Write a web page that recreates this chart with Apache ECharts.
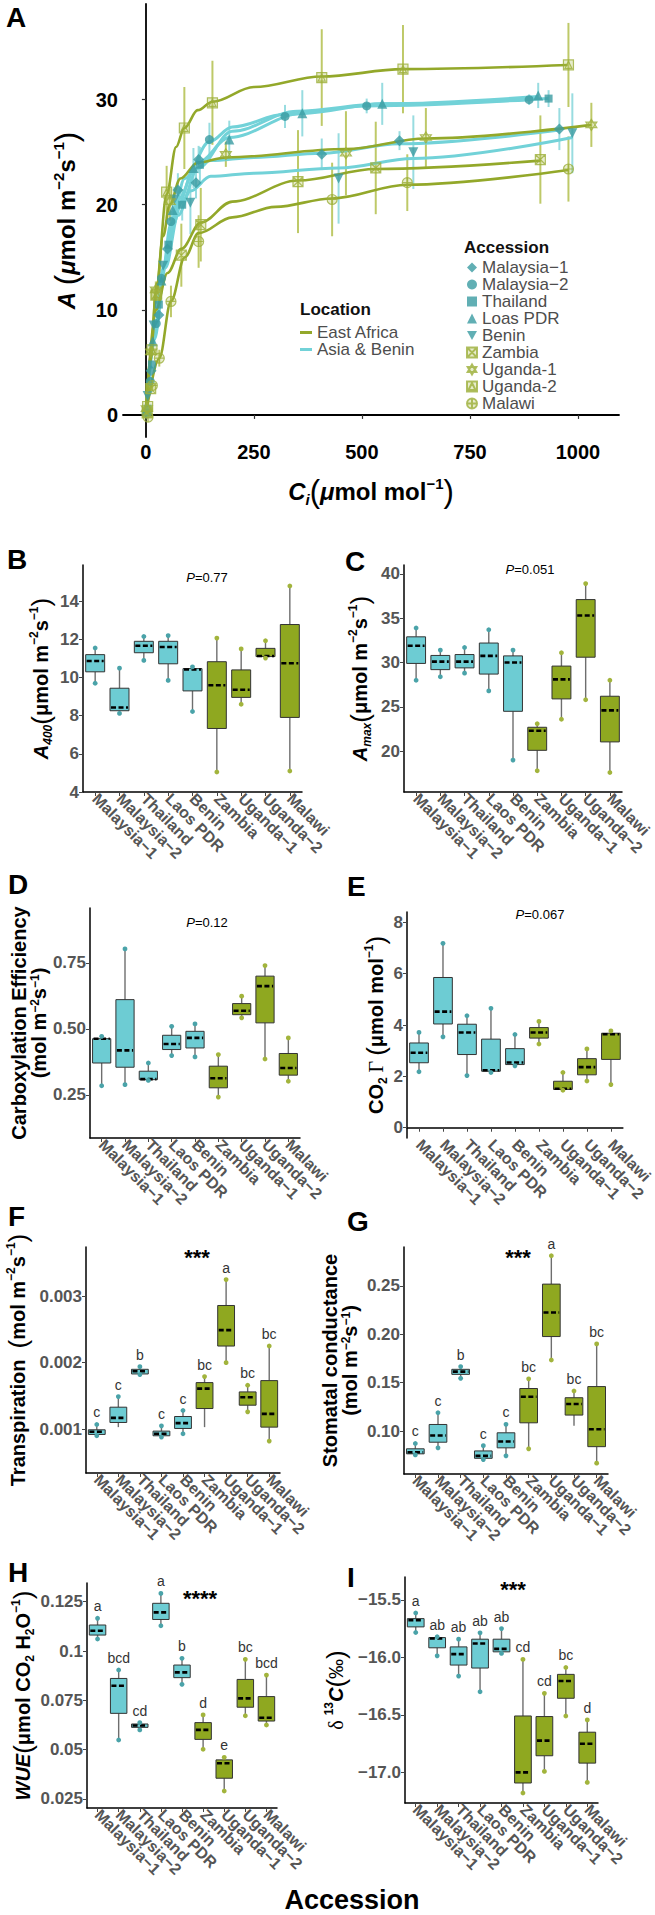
<!DOCTYPE html>
<html><head><meta charset="utf-8">
<script src="https://cdn.jsdelivr.net/npm/echarts@6/dist/echarts.min.js"></script>
<style>html,body{margin:0;padding:0;background:#fff}#c{width:655px;height:1915px}</style>
</head><body><div id="c"></div>
<script>
// ---------------- DATA ----------------
const catLabels = ['Malaysia−1','Malaysia−2','Thailand','Laos PDR','Benin','Zambia','Uganda−1','Uganda−2','Malawi'];
const legendNames = ['Malaysia−1','Malaysia−2','Thailand','Loas PDR','Benin','Zambia','Uganda-1','Uganda-2','Malawi'];
const locationNames = ['Asia & Benin','Asia & Benin','Asia & Benin','Asia & Benin','Asia & Benin','East Africa','East Africa','East Africa','East Africa'];

// Panel A: points [Ci, A, error half-length]
const ptsMalaysia1 = [[2,0.3,0],[12,4.2,0],[30,9.5,0],[50,15.8,0],[74,21.4,1.6],[116,22.1,1.5],[122,24.3,1.3],[407,24.8,1.5],[587,26.1,0.9],[957,27.2,2.0]];
const ptsMalaysia2 = [[3,0.1,0],[10,3.2,0],[24,8.7,0],[36,13.0,0.8],[58,18.4,1.0],[147,26.2,1.6],[322,28.4,1.1],[511,29.4,0.7],[887,30.0,0.5]];
const ptsThailand  = [[4,0.6,0],[14,4.8,0],[30,10.5,0],[52,16.2,0],[84,20.0,1.5],[125,23.8,1.7],[932,30.1,0.8]];
const ptsLaos      = [[1,0.5,0],[16,7.0,0],[36,12.8,0],[62,19.5,1.0],[110,23.5,1.9],[193,26.2,1.8],[362,28.7,2.2],[547,29.6,2.0],[908,30.4,1.2]];
const ptsBenin     = [[4,1.8,0],[18,8.5,0],[40,14.2,0],[66,20.5,1.2],[103,20.2,3.0],[446,22.5,4.3],[619,25.0,3.5],[987,26.8,3.8]];
const ptsZambia    = [[3,0.2,0],[11,2.5,0],[23,11.4,0.8],[82,15.2,3.0],[127,18.1,3.5],[352,22.2,4.9],[532,23.5,4.4],[913,24.3,4.2]];
const ptsUganda1   = [[2,0.6,0],[12,6.0,0],[23,11.9,0.8],[55,20.3,1.8],[185,24.8,1.2],[463,24.9,4.0],[648,26.4,2.8],[1031,27.6,2.1]];
const ptsUganda2   = [[4,0.8,0],[14,6.2,0],[25,11.5,0.9],[48,21.2,2.5],[89,27.3,3.9],[154,29.7,4.0],[407,32.1,4.6],[595,32.9,4.2],[978,33.3,4.0]];
const ptsMalawi    = [[5,-0.2,0],[15,2.8,0],[31,5.4,0.8],[58,10.8,1.5],[122,16.5,2.5],[431,20.5,3.5],[605,22.1,2.7],[978,23.4,3.1]];

// Panel A: fitted curves [Ci, A]
const curveMalaysia1 = [[0,0],[20,7.5],[45,14.5],[75,20],[110,23.3],[150,24.2],[250,24.5],[407,24.9],[587,25.8],[957,27.1]];
const curveMalaysia2 = [[0,0],[20,7.5],[36,12.8],[58,18.2],[90,22.5],[147,26],[200,27.4],[322,28.6],[511,29.4],[887,30.0]];
const curveThailand  = [[0,0],[20,7.8],[40,14],[60,17.8],[84,20.3],[120,23.5],[200,27],[350,28.9],[550,29.6],[932,30.1]];
const curveLaos      = [[0,0],[20,7.2],[45,14.5],[75,20.5],[120,24],[193,26.4],[362,28.7],[547,29.6],[908,30.3]];
const curveBenin     = [[0,0],[20,8],[45,14],[75,19],[103,21.3],[150,22.7],[250,23],[446,23.5],[619,24.4],[987,26.4]];
const curveZambia    = [[0,0],[23,10],[50,13.5],[82,15.8],[127,18.3],[200,20.3],[352,22.3],[532,23.4],[913,24.2]];
const curveUganda1   = [[0,0],[12,6],[23,11.5],[40,17],[55,20],[80,22.5],[120,24],[185,24.5],[463,25.3],[648,26.3],[1031,27.6]];
const curveUganda2   = [[0,0],[10,5],[25,12.5],[48,21],[70,25.5],[89,27.3],[120,29],[154,29.8],[250,31.2],[407,32.2],[595,32.9],[976,33.3]];
const curveMalawi    = [[0,0],[31,5.4],[58,10.8],[90,15],[122,17.3],[200,18.8],[300,19.8],[431,20.6],[605,21.9],[978,23.3]];

const aXTicks = [0,250,500,750,1000];
const aXTickLabels = ['0','250','500','750','1000'];
const aYTicks = [0,10,20,30];
const aYTickLabels = ['0','10','20','30'];

// Box panels: [min, q1, median, q3, max] per accession
const a400 = [[9.7,10.3,10.87,11.2,11.55],[8.12,8.26,8.43,9.44,10.49],[10.9,11.3,11.67,11.9,12.15],[9.85,10.72,11.6,11.9,12.2],[8.22,9.3,10.42,10.47,10.56],[5.05,7.33,9.6,10.83,12.07],[8.6,8.96,9.36,10.4,11.5],[11.02,11.1,11.13,11.53,11.93],[5.1,7.91,10.75,12.78,14.8]];
const amax = [[28.0,29.9,31.9,32.9,33.9],[28.4,29.2,30.1,30.8,31.4],[28.8,29.4,30.1,30.9,31.7],[26.8,28.7,30.75,32.2,33.7],[19.0,24.5,30.0,30.75,31.4],[17.8,20.1,22.3,22.7,23.1],[23.6,25.9,28.1,29.6,31.1],[25.8,30.6,35.3,37.1,38.9],[17.6,21.05,24.6,26.2,28.0]];
const carbEff = [[0.285,0.371,0.463,0.463,0.472],[0.289,0.355,0.419,0.611,0.803],[0.305,0.308,0.31,0.34,0.371],[0.399,0.422,0.443,0.476,0.51],[0.394,0.428,0.466,0.491,0.519],[0.242,0.277,0.313,0.359,0.403],[0.542,0.554,0.569,0.596,0.624],[0.386,0.523,0.662,0.70,0.74],[0.302,0.325,0.352,0.407,0.466]];
const co2Gamma = [[2.18,2.53,2.92,3.3,3.71],[3.54,4.04,4.52,5.85,7.18],[2.03,2.85,3.71,4.03,4.36],[2.15,2.2,2.24,3.45,4.65],[2.41,2.46,2.54,3.08,3.63],[3.26,3.49,3.71,3.9,4.14],[1.46,1.49,1.52,1.81,2.15],[1.82,2.06,2.36,2.69,3.07],[1.68,2.66,3.64,3.68,3.77]];
const transp = [[0.00090,0.00092,0.00096,0.00099,0.00107],[0.00103,0.0011,0.00117,0.00133,0.00149],[0.00182,0.00183,0.00187,0.0019,0.00194],[0.00088,0.0009,0.00093,0.00097,0.00105],[0.00093,0.00101,0.00109,0.00119,0.00128],[0.00103,0.00131,0.00161,0.0017,0.00179],[0.002,0.00225,0.00249,0.00286,0.00325],[0.00126,0.00136,0.00148,0.00156,0.00166],[0.00082,0.00103,0.00123,0.00173,0.00225]];
const stomCond = [[0.0755,0.0766,0.0783,0.0818,0.0873],[0.0828,0.0886,0.0955,0.1069,0.119],[0.1545,0.1586,0.1614,0.1638,0.1666],[0.0707,0.072,0.0745,0.0796,0.085],[0.0745,0.0828,0.0893,0.0983,0.107],[0.0818,0.1086,0.1355,0.144,0.154],[0.1734,0.1976,0.2224,0.2517,0.281],[0.1055,0.1166,0.128,0.1345,0.1414],[0.067,0.084,0.102,0.146,0.19]];
const wue = [[0.1061,0.1081,0.1103,0.1132,0.1166],[0.0549,0.0684,0.0824,0.0861,0.0904],[0.06,0.0613,0.0622,0.063,0.0637],[0.1128,0.116,0.1196,0.1242,0.1292],[0.0831,0.0865,0.0892,0.0929,0.0963],[0.0502,0.0552,0.06,0.0637,0.0676],[0.029,0.0355,0.0431,0.0448,0.0461],[0.0672,0.0715,0.076,0.0856,0.0958],[0.0625,0.0645,0.0662,0.0769,0.0878]];
const d13c = [[-15.783,-15.734,-15.676,-15.662,-15.613],[-15.986,-15.916,-15.835,-15.827,-15.82],[-16.162,-16.066,-15.971,-15.908,-15.841],[-16.298,-16.092,-15.879,-15.841,-15.786],[-15.965,-15.951,-15.925,-15.841,-15.749],[-17.179,-17.092,-17.0,-16.509,-16.017],[-16.991,-16.855,-16.723,-16.514,-16.312],[-16.509,-16.355,-16.205,-16.147,-16.087],[-17.087,-16.919,-16.751,-16.65,-16.543]];

const lettersF = ['c','c','b','c','c','bc','a','bc','bc'];
const lettersG = ['c','c','b','c','c','bc','a','bc','bc'];
const lettersH = ['a','bcd','cd','a','b','d','e','bc','bcd'];
const lettersI = ['a','ab','ab','ab','ab','cd','cd','bc','d'];

const ticksB = [4,6,8,10,12,14];            const tickLabelsB = ['4','6','8','10','12','14'];
const ticksC = [20,25,30,35,40];            const tickLabelsC = ['20','25','30','35','40'];
const ticksD = [0.25,0.5,0.75];             const tickLabelsD = ['0.25','0.50','0.75'];
const ticksE = [0,2,4,6,8];                 const tickLabelsE = ['0','2','4','6','8'];
const ticksF = [0.001,0.002,0.003];         const tickLabelsF = ['0.001','0.002','0.003'];
const ticksG = [0.10,0.15,0.20,0.25];       const tickLabelsG = ['0.10','0.15','0.20','0.25'];
const ticksH = [0.025,0.05,0.075,0.1,0.125];const tickLabelsH = ['0.025','0.05','0.075','0.1','0.125'];
const ticksI = [-17,-16.5,-16,-15.5];       const tickLabelsI = ['−17.0','−16.5','−16.0','−15.5'];

const pValB = '0.77', pValC = '0.051', pValD = '0.12', pValE = '0.067';
const starsF = '***', starsG = '***', starsH = '****', starsI = '***';

// ---------------- STYLE ----------------
const FF = '"Liberation Sans", Arial, Helvetica, sans-serif';
const TEAL_FILL = '#6dccd3', GREEN_FILL = '#8fa820';
const TEAL_DOT = '#4aa3a9', GREEN_DOT = '#a2b43c';
const TEAL_LINE = '#72d2d8', GREEN_LINE = '#93a82a';
const TEAL_MK = '#3a9ba1';

function rich(fs) {
  const base = {fontFamily: FF, fontWeight: 'bold', color: '#000', fontSize: fs};
  const s = Math.round(fs * 0.62);
  return {
    b: base,
    i: Object.assign({}, base, {fontStyle: 'italic'}),
    n: Object.assign({}, base, {fontWeight: 'normal'}),
    sup: Object.assign({}, base, {fontSize: s, verticalAlign: 'top'}),
    sub: Object.assign({}, base, {fontSize: s, verticalAlign: 'bottom'}),
    isub: Object.assign({}, base, {fontSize: s, verticalAlign: 'bottom', fontStyle: 'italic'}),
    p: Object.assign({}, base, {fontWeight: 'normal', fontSize: Math.round(fs * 1.3)}),
    g: Object.assign({}, base, {fontWeight: 'normal', fontFamily: '"Liberation Serif", serif'})
  };
}

function labelFor(v, ticks, labels) {
  for (let i = 0; i < ticks.length; i++) if (Math.abs(ticks[i] - v) <= 1e-9 + 1e-9 * Math.abs(v)) return labels[i];
  return '';
}

const grids = [
  {left: 123, top: 4, width: 496, height: 433},
  {left: 83, top: 565, width: 219, height: 227},
  {left: 404, top: 565, width: 218, height: 227},
  {left: 90, top: 908, width: 210, height: 230},
  {left: 407, top: 912, width: 230, height: 226},
  {left: 86, top: 1247, width: 194, height: 226},
  {left: 404, top: 1247, width: 204, height: 227},
  {left: 87, top: 1583, width: 190, height: 225},
  {left: 405, top: 1577, width: 193, height: 226}
];

const panels = [
  {box: a400, min: 4, max: 15.9, ticks: ticksB, labels: tickLabelsB, gap: 29, fs: 20,
   name: '{i|A}{isub|400}{p|(}{b|μmol m}{sup|−2}{b|s}{sup|−1}{p|)}'},
  {box: amax, min: 15.4, max: 41.0, ticks: ticksC, labels: tickLabelsC, gap: 31, fs: 20,
   name: '{i|A}{isub|max}{p|(}{b|μmol m}{sup|−2}{b|s}{sup|−1}{p|)}'},
  {box: carbEff, min: 0.087, max: 0.958, ticks: ticksD, labels: tickLabelsD, gap: 38, fs: 20,
   name: '{b|Carboxylation Efficiency}\n{b|(mol m}{sup|−2}{b|s}{sup|−1}{b|)}'},
  {box: co2Gamma, min: -0.4, max: 8.4, ticks: ticksE, labels: tickLabelsE, gap: 18, fs: 20,
   name: '{b|CO}{sub|2}{g| Γ }{p|(}{b|μmol mol}{sup|−1}{p|)}'},
  {box: transp, min: 0.00034, max: 0.00374, ticks: ticksF, labels: tickLabelsF, gap: 55, fs: 20, letters: lettersF,
   name: '{b|Transpiration  }{p|(}{b|mol m}{sup|−2}{b|s}{sup|−1}{p|)}'},
  {box: stomCond, min: 0.0558, max: 0.290, ticks: ticksG, labels: tickLabelsG, gap: 44, fs: 20, letters: lettersG,
   name: '{b|Stomatal conductance}\n{b|(mol m}{sup|−2}{b|s}{sup|−1}{b|)}'},
  {box: wue, min: 0.0204, max: 0.1345, ticks: ticksH, labels: tickLabelsH, gap: 51, fs: 20, letters: lettersH,
   name: '{i|WUE}{p|(}{b|μmol CO}{sub|2}{b| H}{sub|2}{b|O}{sup|−1}{p|)}'},
  {box: d13c, min: -17.266, max: -15.3, ticks: ticksI, labels: tickLabelsI, gap: 56, fs: 20, letters: lettersI,
   name: '{g|δ }{sup|13}{i|C}{p|(}{n|‰}{p|)}'}
];

// ---------------- AXES ----------------
const xAxes = [{
  type: 'value', gridIndex: 0, min: -53, max: 1095,
  axisLine: {show: true, lineStyle: {color: '#000', width: 1.8}},
  axisTick: {show: true, length: 4, customValues: aXTicks, lineStyle: {color: '#333', width: 1.2}},
  axisLabel: {customValues: aXTicks, formatter: v => labelFor(v, aXTicks, aXTickLabels),
              fontSize: 20, fontWeight: 'bold', color: '#000', fontFamily: FF, margin: 5},
  splitLine: {show: false},
  name: '{i|C}{isub|i}{p|(}{i|μ}{b|mol mol}{sup|−1}{p|)}', nameLocation: 'middle', nameGap: 39,
  nameTextStyle: {rich: rich(24)}
}];
const yAxes = [{
  type: 'value', gridIndex: 0, min: -2.1, max: 39.1,
  axisLine: {show: true, lineStyle: {color: '#000', width: 1.8}},
  axisTick: {show: true, length: 4, customValues: aYTicks, lineStyle: {color: '#333', width: 1.2}},
  axisLabel: {customValues: aYTicks, formatter: v => labelFor(v, aYTicks, aYTickLabels),
              fontSize: 20, fontWeight: 'bold', color: '#000', fontFamily: FF, margin: 5},
  splitLine: {show: false},
  name: '{i|A}{b| }{p|(}{i|μ}{b|mol m}{sup|−2}{b|s}{sup|−1}{p|)}', nameLocation: 'middle', nameRotate: 90, nameGap: 41,
  nameTextStyle: {rich: rich(24)}
}];

panels.forEach((p, k) => {
  const gi = k + 1;
  xAxes.push({
    type: 'category', gridIndex: gi, data: catLabels, boundaryGap: true,
    axisLine: {show: true, lineStyle: {color: '#000', width: 1.5}},
    axisTick: {show: true, alignWithLabel: true, length: 4, lineStyle: {color: '#444'}},
    axisLabel: {rotate: -45, interval: 0, fontSize: 16, fontWeight: 'bold', color: '#555', fontFamily: FF, margin: 4}
  });
  yAxes.push({
    type: 'value', gridIndex: gi, min: p.min, max: p.max,
    axisLine: {show: true, lineStyle: {color: '#000', width: 1.5}},
    axisTick: {show: true, length: 4, customValues: p.ticks, lineStyle: {color: '#444'}},
    axisLabel: {customValues: p.ticks, formatter: v => labelFor(v, p.ticks, p.labels),
                fontSize: 17, fontWeight: 'bold', color: '#555', fontFamily: FF, margin: 4},
    splitLine: {show: false},
    name: p.name, nameLocation: 'middle', nameRotate: 90, nameGap: p.gap,
    nameTextStyle: {rich: rich(p.fs), align: 'center'}
  });
});

// ---------------- SERIES ----------------
const series = [];

const allPts = [ptsMalaysia1, ptsMalaysia2, ptsThailand, ptsLaos, ptsBenin, ptsZambia, ptsUganda1, ptsUganda2, ptsMalawi];
const allCurves = [curveMalaysia1, curveMalaysia2, curveThailand, curveLaos, curveBenin, curveZambia, curveUganda1, curveUganda2, curveMalawi];
const symbols = ['diamond', 'circle', 'rect', 'triangle', 'path://M0,0L10,0L5,9Z',
  'path://M0,0L10,0L10,10L0,10Z M0,0L10,10 M10,0L0,10',
  'path://M5,0L10,8.66L0,8.66Z M0,2.89L10,2.89L5,11.55Z',
  'path://M0,0L10,0L10,10L0,10Z M1.5,8.5L5,1.5L8.5,8.5Z',
  'path://M10,5A5,5,0,1,1,0,5A5,5,0,1,1,10,5Z M5,0L5,10 M0,5L10,5'];
const symSizes = [11, 9, 8, 10, 10, 10, 11, 10, 10];

// error bars
const errData = [];
allPts.forEach((pts, a) => pts.forEach(p => { if (p[2] > 0) errData.push([p[0], p[1] - p[2], p[1] + p[2], a]); }));
series.push({
  type: 'custom', xAxisIndex: 0, yAxisIndex: 0, z: 1, silent: true,
  data: errData, encode: {x: 0, y: [1, 2]},
  renderItem(params, api) {
    const p1 = api.coord([api.value(0), api.value(1)]);
    const p2 = api.coord([api.value(0), api.value(2)]);
    const green = api.value(3) >= 5;
    return {type: 'line', shape: {x1: p1[0], y1: p1[1], x2: p2[0], y2: p2[1]},
            style: {stroke: green ? '#b3c04e' : '#86d6db', lineWidth: 2, opacity: 0.85}};
  }
});

allCurves.forEach((c, a) => {
  const green = a >= 5;
  series.push({
    type: 'line', name: locationNames[a], xAxisIndex: 0, yAxisIndex: 0, z: 2,
    data: c, smooth: 0.35, smoothMonotone: 'x', showSymbol: false, symbol: 'none',
    color: green ? GREEN_LINE : TEAL_LINE,
    lineStyle: {width: green ? 2.6 : 3, color: green ? GREEN_LINE : TEAL_LINE}
  });
});

allPts.forEach((pts, a) => {
  const green = a >= 5;
  series.push({
    type: 'scatter', name: legendNames[a], xAxisIndex: 0, yAxisIndex: 0, z: 3,
    data: pts.map(p => [p[0], p[1]]), symbol: symbols[a], symbolSize: symSizes[a],
    itemStyle: green ? {color: 'rgba(170,186,72,0.35)', borderColor: '#9caf3a', borderWidth: 1.2}
                     : {color: TEAL_MK}
  });
});

function boxSeries(k, p) {
  const gi = k + 1;
  return {
    type: 'custom', xAxisIndex: gi, yAxisIndex: gi, silent: true,
    data: p.box.map((b, i) => [i].concat(b)),
    encode: {x: 0, y: [1, 2, 3, 4, 5]},
    renderItem(params, api) {
      const i = api.value(0);
      const c = j => api.coord([i, api.value(j)]);
      const pMin = c(1), pQ1 = c(2), pMed = c(3), pQ3 = c(4), pMax = c(5);
      const x = pMin[0];
      const bw = api.size([1, 0])[0] * 0.78;
      const teal = i < 5;
      const dot = teal ? TEAL_DOT : GREEN_DOT;
      const ch = [
        {type: 'line', shape: {x1: x, y1: pMax[1], x2: x, y2: pQ3[1]}, style: {stroke: '#6e6e6e', lineWidth: 1.4}},
        {type: 'line', shape: {x1: x, y1: pQ1[1], x2: x, y2: pMin[1]}, style: {stroke: '#6e6e6e', lineWidth: 1.4}},
        {type: 'rect', shape: {x: x - bw / 2, y: pQ3[1], width: bw, height: Math.max(pQ1[1] - pQ3[1], 1.5)},
         style: {fill: teal ? TEAL_FILL : GREEN_FILL, stroke: '#333', lineWidth: 1}},
        {type: 'line', shape: {x1: x - bw / 2 + 1, y1: pMed[1], x2: x + bw / 2 - 1, y2: pMed[1]},
         style: {stroke: '#000', lineWidth: 2.6, lineDash: [5, 2.5]}},
        {type: 'circle', shape: {cx: x, cy: pMax[1], r: 2.4}, style: {fill: dot}},
        {type: 'circle', shape: {cx: x, cy: pMin[1], r: 2.4}, style: {fill: dot}}
      ];
      if (p.letters) {
        ch.push({type: 'text', style: {text: p.letters[params.dataIndex], x: x, y: pMax[1] - 5,
          align: 'center', verticalAlign: 'bottom', fontSize: 14, fontFamily: FF, fill: '#333'}});
      }
      return {type: 'group', children: ch};
    }
  };
}
panels.forEach((p, k) => series.push(boxSeries(k, p)));

// ---------------- TEXT ANNOTATIONS ----------------
function letter(t, x, y) {
  return {type: 'text', x: x, y: y, style: {text: t, fontSize: 28, fontWeight: 'bold', fontFamily: FF, fill: '#000', align: 'left', verticalAlign: 'top'}};
}
function pval(v, x, y) {
  return {type: 'text', x: x, y: y, style: {text: '{i|P}{n|=' + v + '}', align: 'center', verticalAlign: 'middle',
    rich: {i: {fontStyle: 'italic', fontSize: 13, fontFamily: FF, color: '#222'}, n: {fontSize: 13, fontFamily: FF, color: '#222'}}}};
}
function stars(t, x, y) {
  return {type: 'text', x: x, y: y, style: {text: t, fontSize: 22, fontWeight: 'bold', fontFamily: FF, fill: '#000', align: 'center', verticalAlign: 'middle'}};
}
const graphics = [
  letter('A', 6, 3), letter('B', 7, 545), letter('C', 345, 547), letter('D', 8, 870), letter('E', 347, 872),
  letter('F', 8, 1202), letter('G', 347, 1207), letter('H', 8, 1558), letter('I', 347, 1563),
  pval(pValB, 207, 577), pval(pValC, 530, 569), pval(pValD, 207, 922), pval(pValE, 540, 914),
  stars(starsF, 197, 1257), stars(starsG, 518, 1257), stars(starsH, 200, 1598), stars(starsI, 513, 1589),
  {type: 'text', x: 300, y: 309, style: {text: 'Location', fontSize: 17, fontWeight: 'bold', fontFamily: FF, fill: '#111', align: 'left', verticalAlign: 'middle'}},
  {type: 'text', x: 464, y: 247, style: {text: 'Accession', fontSize: 17, fontWeight: 'bold', fontFamily: FF, fill: '#111', align: 'left', verticalAlign: 'middle'}},
  {type: 'text', x: 352, y: 1900, style: {text: 'Accession', fontSize: 27, fontWeight: 'bold', fontFamily: FF, fill: '#000', align: 'center', verticalAlign: 'middle'}}
];

const option = {
  animation: false,
  backgroundColor: '#fff',
  grid: grids,
  xAxis: xAxes,
  yAxis: yAxes,
  legend: [
    {data: ['East Africa', 'Asia & Benin'], left: 300, top: 324, orient: 'vertical', itemGap: 0,
     itemWidth: 12, itemHeight: 3, icon: 'rect', padding: 0, selectedMode: false,
     textStyle: {fontSize: 17, color: '#4d4d4d', fontFamily: FF, lineHeight: 16}},
    {data: legendNames, left: 466, top: 259, orient: 'vertical', itemGap: 0,
     itemWidth: 10, itemHeight: 10, padding: 0, selectedMode: false,
     textStyle: {fontSize: 17, color: '#4d4d4d', fontFamily: FF, lineHeight: 16}}
  ],
  graphic: {elements: graphics},
  series: series
};

const chart = echarts.init(document.getElementById('c'), null, {renderer: 'svg'});
chart.setOption(option);
</script>
</body></html>
